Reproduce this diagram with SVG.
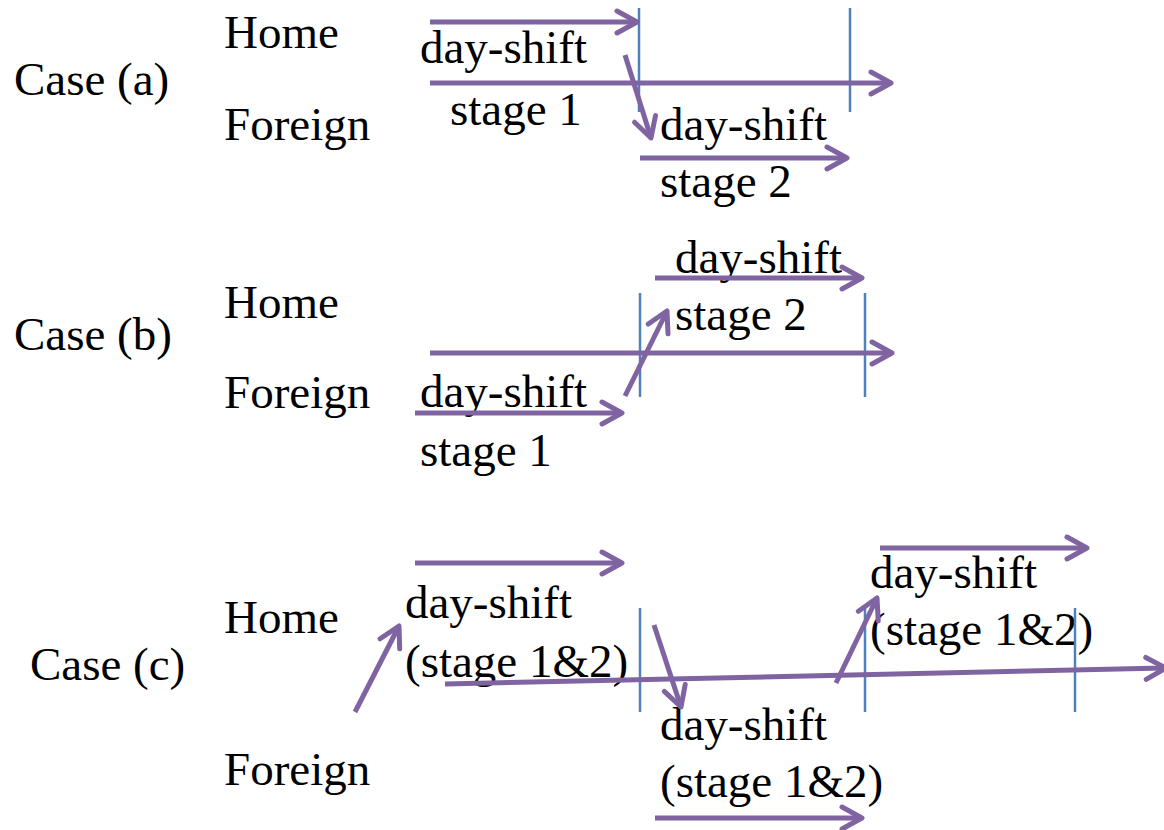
<svg xmlns="http://www.w3.org/2000/svg" width="1164" height="830" viewBox="0 0 1164 830">
  <style>
    text { font-family: "Liberation Serif", "Times New Roman", serif; font-size: 47px; fill: #000; }
    .flow { stroke: #8064A2; stroke-width: 5; fill: none; marker-end: url(#head); }
    .tick { stroke: #4F81BD; stroke-width: 2.5; fill: none; }
  </style>
  <defs>
    <marker id="head" markerUnits="userSpaceOnUse" viewBox="-24 -14 28 28" markerWidth="28" markerHeight="28" refX="0" refY="0" orient="auto" overflow="visible">
      <path d="M-20,-11 L0,0 L-20,11" fill="none" stroke="#8064A2" stroke-width="5" stroke-linecap="round" stroke-linejoin="round"/>
    </marker>
  </defs>
  <rect width="1164" height="830" fill="#fff"/>

  <!-- Case (a) -->
  <g id="case-a">
    <text x="14" y="95">Case (a)</text>
    <text x="224" y="48">Home</text>
    <text x="224" y="140">Foreign</text>
    <text x="420" y="63">day-shift</text>
    <text x="450" y="125">stage 1</text>
    <text x="660" y="140">day-shift</text>
    <text x="660" y="197">stage 2</text>
    <line class="tick" x1="639" y1="8" x2="639" y2="112"/>
    <line class="tick" x1="850" y1="8" x2="850" y2="112"/>
  </g>

  <!-- Case (b) -->
  <g id="case-b">
    <text x="14" y="350">Case (b)</text>
    <text x="224" y="318">Home</text>
    <text x="224" y="408">Foreign</text>
    <text x="675" y="273">day-shift</text>
    <text x="675" y="330">stage 2</text>
    <text x="420" y="407">day-shift</text>
    <text x="420" y="466">stage 1</text>
    <line class="tick" x1="640" y1="293" x2="640" y2="397"/>
    <line class="tick" x1="865" y1="293" x2="865" y2="397"/>
  </g>

  <!-- Case (c) -->
  <g id="case-c">
    <text x="30" y="680">Case (c)</text>
    <text x="224" y="633">Home</text>
    <text x="224" y="785">Foreign</text>
    <text x="405" y="618">day-shift</text>
    <text x="405" y="677">(stage 1&amp;2)</text>
    <text x="660" y="740">day-shift</text>
    <text x="660" y="797">(stage 1&amp;2)</text>
    <text x="870" y="588">day-shift</text>
    <text x="870" y="645">(stage 1&amp;2)</text>
    <line class="tick" x1="640" y1="608" x2="640" y2="712"/>
    <line class="tick" x1="865" y1="608" x2="865" y2="712"/>
    <line class="tick" x1="1075" y1="608" x2="1075" y2="712"/>
  </g>

  <!-- Connectors -->
  <g id="connectors">
    <!-- case (a) -->
    <line class="flow" x1="430" y1="22" x2="637" y2="22"/>
    <line class="flow" x1="430" y1="83" x2="891" y2="83"/>
    <line class="flow" x1="625" y1="55" x2="651" y2="138"/>
    <line class="flow" x1="640" y1="158" x2="847" y2="158"/>
    <!-- case (b) -->
    <line class="flow" x1="655" y1="278" x2="862" y2="278"/>
    <line class="flow" x1="430" y1="353" x2="892" y2="353"/>
    <line class="flow" x1="415" y1="413" x2="622" y2="413"/>
    <line class="flow" x1="625" y1="396" x2="667" y2="311"/>
    <!-- case (c) -->
    <line class="flow" x1="415" y1="563" x2="622" y2="563"/>
    <line class="flow" x1="355" y1="712" x2="399" y2="626"/>
    <line class="flow" x1="445" y1="684" x2="1166" y2="668"/>
    <line class="flow" x1="654" y1="625" x2="681" y2="707"/>
    <line class="flow" x1="836" y1="683" x2="877" y2="598"/>
    <line class="flow" x1="880" y1="548" x2="1087" y2="548"/>
    <line class="flow" x1="655" y1="818" x2="862" y2="818"/>
  </g>
</svg>
